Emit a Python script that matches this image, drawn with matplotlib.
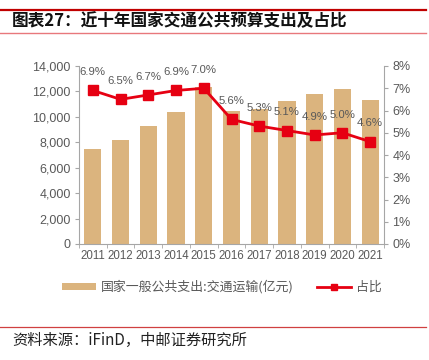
import matplotlib
matplotlib.use("Agg")
import matplotlib.pyplot as plt
from matplotlib.lines import Line2D
from matplotlib.patches import Patch

plt.rcParams['font.family'] = ['Liberation Sans', 'Noto Sans CJK SC', 'DejaVu Sans']

years = ['2011', '2012', '2013', '2014', '2015', '2016', '2017', '2018', '2019', '2020', '2021']
spending = [7460, 8170, 9320, 10390, 12330, 10470, 10630, 11260, 11780, 12170, 11360]
share = [6.9, 6.5, 6.7, 6.9, 7.0, 5.6, 5.3, 5.1, 4.9, 5.0, 4.6]
share_labels = ['6.9%', '6.5%', '6.7%', '6.9%', '7.0%', '5.6%', '5.3%', '5.1%', '4.9%', '5.0%', '4.6%']
left_ticks = [0, 2000, 4000, 6000, 8000, 10000, 12000, 14000]
right_ticks = [0, 1, 2, 3, 4, 5, 6, 7, 8]

bar_color = '#DBB47E'
line_color = '#E60012'
axis_gray = '#A6A6A6'
text_gray = '#595959'
cjk = ['Noto Sans CJK SC', 'DejaVu Sans']

W, H = 429, 360
fig = plt.figure(figsize=(W / 100, H / 100), dpi=100)

def fx(px):
    return px / W

def fy(py):
    return 1 - py / H

# header lines and title
fig.add_artist(Line2D([0, fx(426)], [fy(10), fy(10)], color='#C00000', lw=1.6))
fig.add_artist(Line2D([0, fx(426)], [fy(33), fy(33)], color='#E8787C', lw=1.0))
fig.text(fx(12), fy(21.5), '图表27：近十年国家交通公共预算支出及占比', fontsize=12,
         fontweight='bold', va='center', ha='left', color='#111111', family=cjk)

# footer
fig.add_artist(Line2D([0, fx(426)], [fy(327), fy(327)], color='#D04040', lw=0.9))
fig.text(fx(12), fy(340), '资料来源：iFinD，中邮证券研究所', fontsize=11,
         va='center', ha='left', color='#222222', family=cjk)

ax = fig.add_axes([fx(79), fy(244), fx(384) - fx(79), (244 - 66) / H])
x = list(range(len(years)))
ax.bar(x, spending, width=0.62, color=bar_color, zorder=2)
ax.set_xlim(-0.5, len(years) - 0.5)
ax.set_ylim(0, 14000)
ax.set_yticks(left_ticks)
ax.set_yticklabels([f'{v:,}' for v in left_ticks])
ax.set_xticks(x)
ax.set_xticklabels(years)
ax.set_xticks([i - 0.5 for i in range(len(years) + 1)], minor=True)
ax.tick_params(axis='x', which='major', length=0, labelsize=8.3, colors=text_gray, pad=4)
ax.tick_params(axis='x', which='minor', length=3, color=axis_gray, direction='out')
ax.tick_params(axis='y', length=3, color=axis_gray, labelsize=9, labelcolor=text_gray, pad=3)
for s in ['top', 'right']:
    ax.spines[s].set_visible(False)
for s in ['left', 'bottom']:
    ax.spines[s].set_color(axis_gray)
    ax.spines[s].set_linewidth(0.8)

ax2 = ax.twinx()
ax2.plot(x, share, color=line_color, lw=2, marker='s', markersize=7, zorder=3)
for xi, v, lab in zip(x, share, share_labels):
    ax2.annotate(lab, (xi, v), xytext=(0, 9.5), textcoords='offset points',
                 ha='center', va='bottom', fontsize=8.2, color=text_gray)
ax2.set_ylim(0, 8)
ax2.set_yticks(right_ticks)
ax2.set_yticklabels([f'{v}%' for v in right_ticks])
ax2.tick_params(axis='y', length=3, color=axis_gray, labelsize=9, labelcolor=text_gray, pad=3)
for s in ['top', 'left', 'bottom']:
    ax2.spines[s].set_visible(False)
ax2.spines['right'].set_color(axis_gray)
ax2.spines['right'].set_linewidth(0.8)

handles = [Patch(facecolor=bar_color, edgecolor='none'),
           Line2D([], [], color=line_color, lw=2, marker='s', markersize=5)]
leg = fig.legend(handles, ['国家一般公共支出:交通运输(亿元)', '占比'],
                 loc='center', bbox_to_anchor=(fx(222), fy(287)), ncol=2, frameon=False,
                 prop={'family': cjk, 'size': 9.3}, labelcolor=text_gray,
                 handlelength=2.6, handleheight=0.5,
                 columnspacing=1.8, handletextpad=0.4)

fig.savefig('out.png', dpi=100)
